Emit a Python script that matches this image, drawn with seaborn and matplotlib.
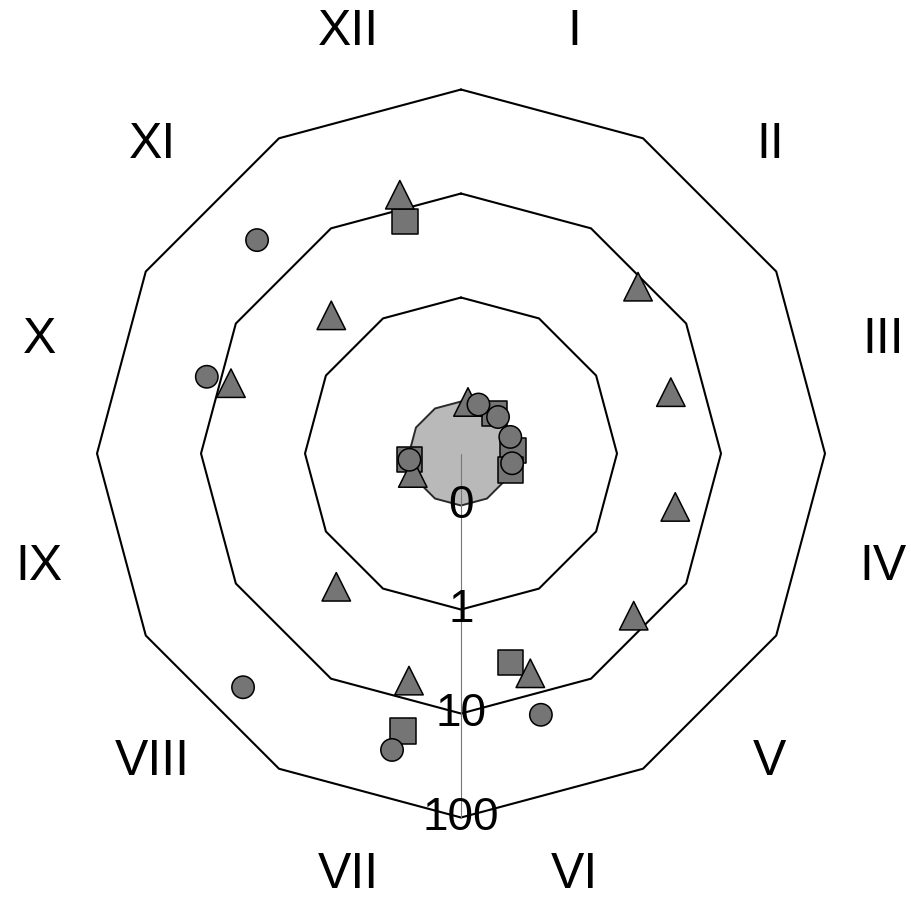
import numpy as np
import pandas as pd
import matplotlib
matplotlib.use("Agg")
import matplotlib.pyplot as plt
import seaborn as sns

# sectors, clockwise from the top
sectors = ["I", "II", "III", "IV", "V", "VI", "VII", "VIII", "IX", "X", "XI", "XII"]

# rings of the radial (log) scale
ring_values = [0, 1, 10, 100]
ring_labels = ["0", "1", "10", "100"]

# triangles: angle (deg clockwise from top) and value
tri_angle = [7.7, 248, 346.7, 316.8, 287, 46.7, 73.7, 104, 133.2, 162.5, 223.1, 192.9]
tri_value = [0, 0, 11.4, 2.1, 6.5, 6.9, 4.0, 4.2, 6.0, 5.2, 1.8, 5.5]
# squares
sq_angle = [40.3, 86.4, 108.6, 263.6, 346.4, 166.6, 191.8]
sq_value = [0, 0, 0, 0, 6.2, 3.7, 16.8]
# circles
circ_angle = [19.6, 45.4, 71.4, 100.8, 263.1, 316.3, 286.8, 163.0, 223.0, 193.1]
circ_value = [0, 0, 0, 0, 0, 21.8, 11.3, 13.4, 37.4, 26.7]


def radius(v):
    # log scale: "0" sits one decade below 1, outer ring is 100
    v = np.maximum(np.asarray(v, dtype=float), 0.1)
    return (np.log10(v) + 1.5) / 3.5


def to_xy(angle, value):
    t = np.deg2rad(np.asarray(angle, dtype=float))
    r = radius(value)
    return r * np.sin(t), r * np.cos(t)


sns.set_style("white")
plt.rcParams["font.family"] = ["Liberation Sans", "DejaVu Sans"]
plt.rcParams["text.color"] = "black"

fig = plt.figure(figsize=(9.12, 9.0), dpi=100)
ax = fig.add_axes([0, 0, 1, 1])

# dodecagon rings
poly_angles = np.arange(0, 361, 30)
x0, y0 = to_xy(poly_angles, np.full(len(poly_angles), ring_values[0]))
ax.fill(x0, y0, facecolor="#b9b9b9", edgecolor="#2a2a2a", lw=1.4, zorder=1)
for v in ring_values[1:]:
    x, y = to_xy(poly_angles, np.full(len(poly_angles), v))
    ax.plot(x, y, color="black", lw=1.5, zorder=2)

# radial axis line
ax.plot([0, 0], [0, -radius(ring_values[-1])], color="#777777", lw=0.8, zorder=3)

# points
df = pd.concat([
    pd.DataFrame({"angle": sq_angle, "value": sq_value, "kind": "sq"}),
    pd.DataFrame({"angle": tri_angle, "value": tri_value, "kind": "tri"}),
    pd.DataFrame({"angle": circ_angle, "value": circ_value, "kind": "circ"}),
], ignore_index=True)
df["x"], df["y"] = to_xy(df["angle"], df["value"])

sns.scatterplot(data=df, x="x", y="y", style="kind", size="kind",
                markers={"sq": "s", "tri": "^", "circ": "o"},
                sizes={"sq": 330, "tri": 420, "circ": 260},
                color="#757575", edgecolor="black", linewidth=1.1,
                legend=False, ax=ax, zorder=4)

# ring labels along the axis line
for v, lab in zip(ring_values, ring_labels):
    x, y = to_xy(180, v)
    ax.text(float(x), float(y), lab, ha="center", va="center", fontsize=33,
            color="black", zorder=5)

# sector labels
for i, lab in enumerate(sectors):
    t = np.deg2rad(15 + 30 * i)
    ax.text(1.2 * np.sin(t), 1.2 * np.cos(t), lab, ha="center", va="center",
            fontsize=36, color="black")

ax.set_xlim(-1.2665, 1.239)
ax.set_ylim(-1.2266, 1.2459)
ax.set_aspect("equal")
ax.axis("off")

plt.savefig("out.png", dpi=100)
plt.close()
